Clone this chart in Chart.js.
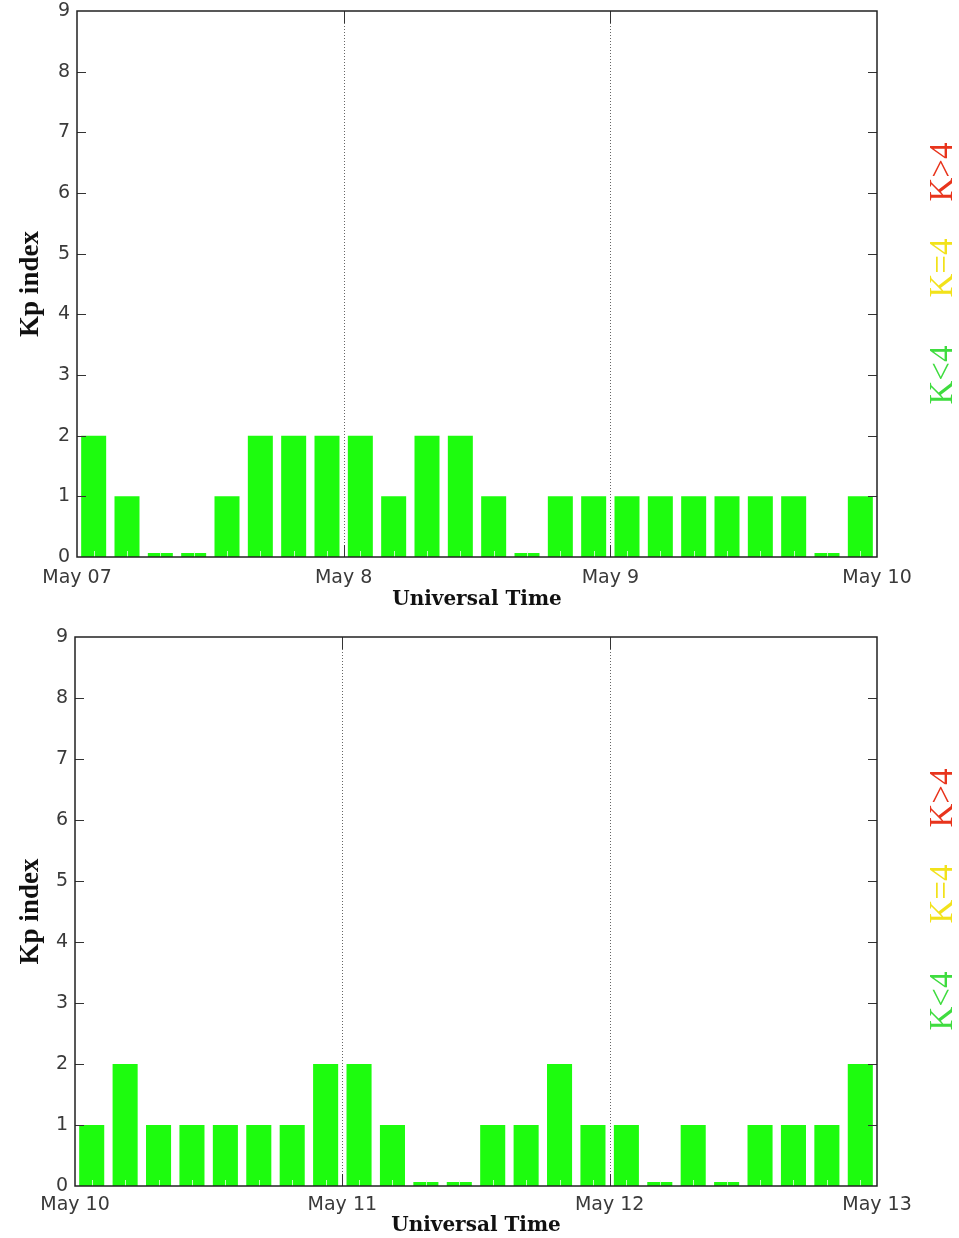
<!DOCTYPE html>
<html>
<head>
<meta charset="utf-8">
<script src="https://cdn.jsdelivr.net/npm/chart.js@4.4.1/dist/chart.umd.min.js"></script>
<style>
  html, body { margin: 0; padding: 0; background: #fff; }
  .panel { position: relative; width: 959px; height: 619px; }
</style>
</head>
<body>
<div class="panel"><canvas id="kpTop" width="959" height="619"></canvas></div>
<div class="panel"><canvas id="kpBottom" width="959" height="619"></canvas></div>
<script>
// 3-hourly Kp readings, eight per day
const kpMay07to09 = [2, 1, 0, 0, 1, 2, 2, 2,  2, 1, 2, 2, 1, 0, 1, 1,  1, 1, 1, 1, 1, 1, 0, 1];
const kpMay10to12 = [1, 2, 1, 1, 1, 1, 1, 2,  2, 1, 0, 0, 1, 1, 2, 1,  1, 0, 1, 0, 1, 1, 1, 2];
const daysTop = ['May 07', 'May 8', 'May 9', 'May 10'];
const daysBottom = ['May 10', 'May 11', 'May 12', 'May 13'];
const legendLabels = ['K<4', 'K=4', 'K>4'];
const legendColors = ['#3fdc3f', '#f2e21a', '#e8341c'];
const barGreen = '#1dfc0e';

// frame, day dividers, inward ticks and the K legend
const framePlugin = {
  id: 'frame',
  afterDatasetsDraw(chart) {
    const { ctx, chartArea: a, scales: { x, y } } = chart;
    ctx.save();

    // faint minor ticks at the bottom of each 3h slot
    ctx.strokeStyle = 'rgba(235,255,230,0.8)';
    ctx.lineWidth = 1;
    chart.getDatasetMeta(0).data.forEach(bar => {
      const px = Math.round(bar.x) + 0.5;
      ctx.beginPath();
      ctx.moveTo(px, a.bottom);
      ctx.lineTo(px, a.bottom - 6);
      ctx.stroke();
    });

    // day dividers
    x.ticks.forEach(t => {
      if (t.value <= x.min || t.value >= x.max) return;
      const px = Math.round(x.getPixelForValue(t.value)) + 0.5;
      ctx.strokeStyle = '#666';
      ctx.setLineDash([1, 2]);
      ctx.beginPath();
      ctx.moveTo(px, a.top);
      ctx.lineTo(px, a.bottom);
      ctx.stroke();
      ctx.setLineDash([]);
      ctx.strokeStyle = '#333';
      ctx.beginPath();
      ctx.moveTo(px, a.top); ctx.lineTo(px, a.top + 12);
      ctx.moveTo(px, a.bottom); ctx.lineTo(px, a.bottom - 12);
      ctx.stroke();
    });

    // inward y ticks on both sides
    ctx.strokeStyle = '#333';
    y.ticks.forEach(t => {
      if (t.value <= y.min || t.value >= y.max) return;
      const py = Math.round(y.getPixelForValue(t.value)) + 0.5;
      ctx.beginPath();
      ctx.moveTo(a.left, py); ctx.lineTo(a.left + 9, py);
      ctx.moveTo(a.right, py); ctx.lineTo(a.right - 9, py);
      ctx.stroke();
    });

    // frame
    ctx.strokeStyle = '#222';
    ctx.lineWidth = 1.5;
    ctx.strokeRect(a.left, a.top, a.right - a.left, a.bottom - a.top);

    // K legend, rotated
    const offsets = [364, 257, 161];
    legendLabels.forEach((txt, i) => {
      ctx.save();
      ctx.translate(a.right + 66, a.top + offsets[i]);
      ctx.rotate(-Math.PI / 2);
      ctx.fillStyle = legendColors[i];
      ctx.font = '33px "Liberation Serif"';
      ctx.textAlign = 'center';
      ctx.textBaseline = 'middle';
      ctx.fillText(txt, 0, 0);
      ctx.restore();
    });
    ctx.restore();
  }
};

function makeKpChart(id, values, dayLabels, box) {
  const h = document.getElementById(id).height;
  return new Chart(document.getElementById(id), {
    type: 'bar',
    data: {
      datasets: [{
        data: values.map((v, i) => ({ x: i * 3 + 1.5, y: v })),
        backgroundColor: barGreen,
        borderWidth: 0,
        barPercentage: 0.75,
        categoryPercentage: 1,
        minBarLength: 4
      }]
    },
    options: {
      responsive: false,
      animation: false,
      layout: { padding: { top: box.top, right: 959 - box.right, left: 0, bottom: 0 } },
      plugins: { legend: { display: false }, tooltip: { enabled: false } },
      scales: {
        x: {
          type: 'linear',
          min: 0,
          max: 72,
          offset: false,
          grid: { display: false, drawTicks: false, offset: false },
          border: { display: false },
          ticks: {
            stepSize: 24,
            autoSkip: false,
            maxRotation: 0,
            padding: box.xPad,
            color: '#3a3a3a',
            font: { family: 'DejaVu Sans', size: 19 },
            callback: v => dayLabels[v / 24]
          },
          title: {
            display: true,
            text: 'Universal Time',
            color: '#111',
            font: { family: 'DejaVu Serif', size: 20, weight: 'bold' },
            padding: { top: 0, bottom: box.titlePad }
          },
          afterFit: s => { s.height = h - box.bottom; }
        },
        y: {
          min: 0,
          max: 9,
          grid: { display: false, drawTicks: false },
          border: { display: false },
          ticks: {
            stepSize: 1,
            padding: 7,
            color: '#3a3a3a',
            font: { family: 'DejaVu Sans', size: 19 }
          },
          title: {
            display: true,
            text: 'Kp index',
            color: '#111',
            font: { family: 'Liberation Serif', size: 27, weight: 'bold' },
            padding: { top: 15, bottom: 0 }
          },
          afterFit: s => { s.width = box.left; s.paddingTop = 0; s.paddingBottom = 0; }
        }
      }
    },
    plugins: [framePlugin]
  });
}

makeKpChart('kpTop', kpMay07to09, daysTop, { left: 77, right: 877, top: 11, bottom: 557, xPad: 10, titlePad: 7 });
makeKpChart('kpBottom', kpMay10to12, daysBottom, { left: 75, right: 877, top: 18, bottom: 567, xPad: 8, titlePad: 0 });
</script>
</body>
</html>
